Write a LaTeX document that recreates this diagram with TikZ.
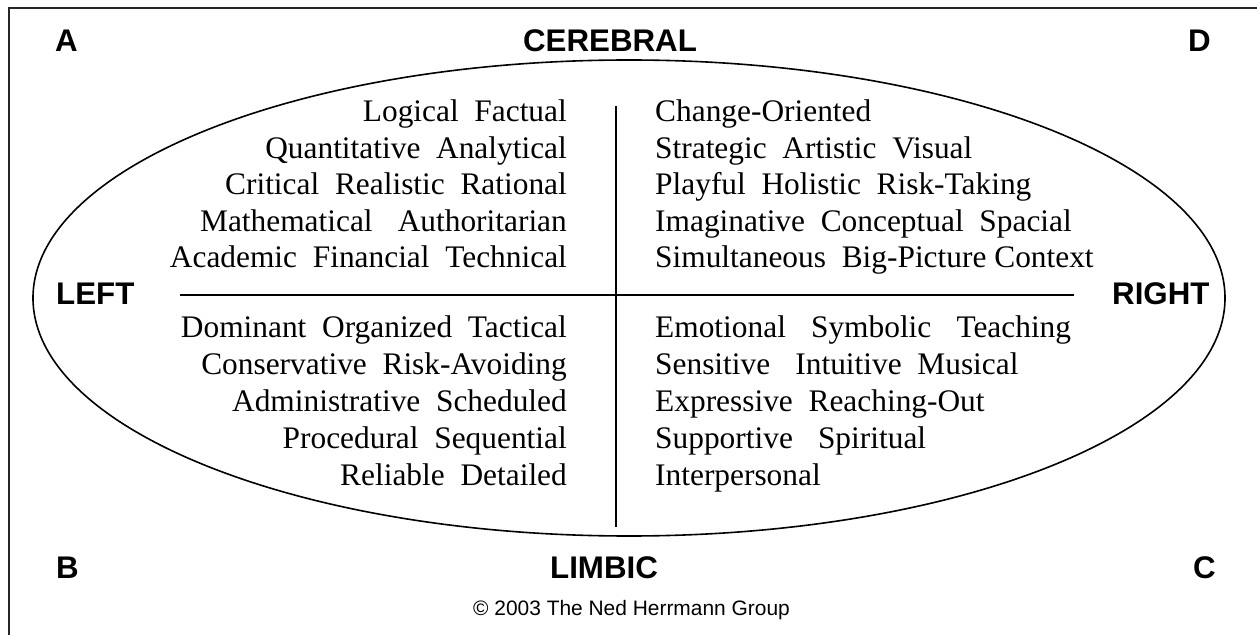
\documentclass[tikz,border=0pt]{standalone}
\usepackage{fontspec}
\setmainfont{Liberation Serif}
\newfontfamily\hvfont{Liberation Sans}
\newcommand{\ws}{\hspace{0.5em}}
\newcommand{\wss}{\hspace{0.8em}}
\begin{document}
\begin{tikzpicture}[x=1bp,y=-1bp,
  word/.style={inner sep=0pt,font=\fontsize{31.5}{36}\selectfont},
  lword/.style={word,anchor=base east},
  rword/.style={word,anchor=base west},
  head/.style={inner sep=0pt,font=\hvfont\bfseries\fontsize{31.4}{36}\selectfont},
  rule/.style={line width=1.6bp,black}]
\useasboundingbox (0,0) rectangle (1257,635);

% frame (top and left edges)
\coordinate (ftl) at (9,8);
\coordinate (ftr) at (1257,8);
\coordinate (fbl) at (9,635);
\draw[line width=1.8bp,black!85] (ftr) -- (ftl) -- (fbl);

% ellipse and axes
\coordinate (ec) at (629,298);
\draw[rule] (ec) ellipse [x radius=596, y radius=238];
\coordinate (hl) at (180,295);
\coordinate (hr) at (1074,295);
\coordinate (vt) at (616,106);
\coordinate (vb) at (616,527);
\draw[rule] (hl) -- (hr);
\draw[rule] (vt) -- (vb);

% corner and side labels
\node[head,anchor=base west] (qa) at (55,52) {A};
\node[head,anchor=base] (cer) at (610,52) {CEREBRAL};
\node[head,anchor=base east] (qd) at (1211,52) {D};
\node[head,anchor=base west] (lft) at (56,305) {LEFT};
\node[head,anchor=base west] (rgt) at (1112,305) {RIGHT};
\node[head,anchor=base west] (qb) at (56,578) {B};
\node[head,anchor=base] (lim) at (604,578) {LIMBIC};
\node[head,anchor=base east] (qc) at (1216,578) {C};
\node[inner sep=0pt,anchor=base west,font=\hvfont\fontsize{21}{24}\selectfont] (copy) at (473,615) {© 2003 The Ned Herrmann Group};

% quadrant A
\node[lword] (a1) at (567,122)   {Logical\ws Factual};
\node[lword] (a2) at (567,158.5) {Quantitative\ws Analytical};
\node[lword] (a3) at (567,195)   {Critical\ws Realistic\ws Rational};
\node[lword] (a4) at (567,231.5) {Mathematical\wss Authoritarian};
\node[lword] (a5) at (567,268)   {Academic\ws Financial\ws Technical};

% quadrant D
\node[rword] (d1) at (655,122)   {Change-Oriented};
\node[rword] (d2) at (655,158.5) {Strategic\ws Artistic\ws Visual};
\node[rword] (d3) at (655,195)   {Playful\ws Holistic\ws Risk-Taking};
\node[rword] (d4) at (655,231.5) {Imaginative\ws Conceptual\ws Spacial};
\node[rword] (d5) at (655,268)   {Simultaneous\ws Big-Picture Context};

% quadrant B
\node[lword] (b1) at (567,338)    {Dominant\ws Organized\ws Tactical};
\node[lword] (b2) at (567,374.75) {Conservative\ws Risk-Avoiding};
\node[lword] (b3) at (567,411.5)  {Administrative\ws Scheduled};
\node[lword] (b4) at (567,448.25) {Procedural\ws Sequential};
\node[lword] (b5) at (567,485)    {Reliable\ws Detailed};

% quadrant C
\node[rword] (c1) at (655,338)    {Emotional\wss Symbolic\wss Teaching};
\node[rword] (c2) at (655,374.75) {Sensitive\wss Intuitive\ws Musical};
\node[rword] (c3) at (655,411.5)  {Expressive\ws Reaching-Out};
\node[rword] (c4) at (655,448.25) {Supportive\wss Spiritual};
\node[rword] (c5) at (655,485)    {Interpersonal};
\end{tikzpicture}
\end{document}
